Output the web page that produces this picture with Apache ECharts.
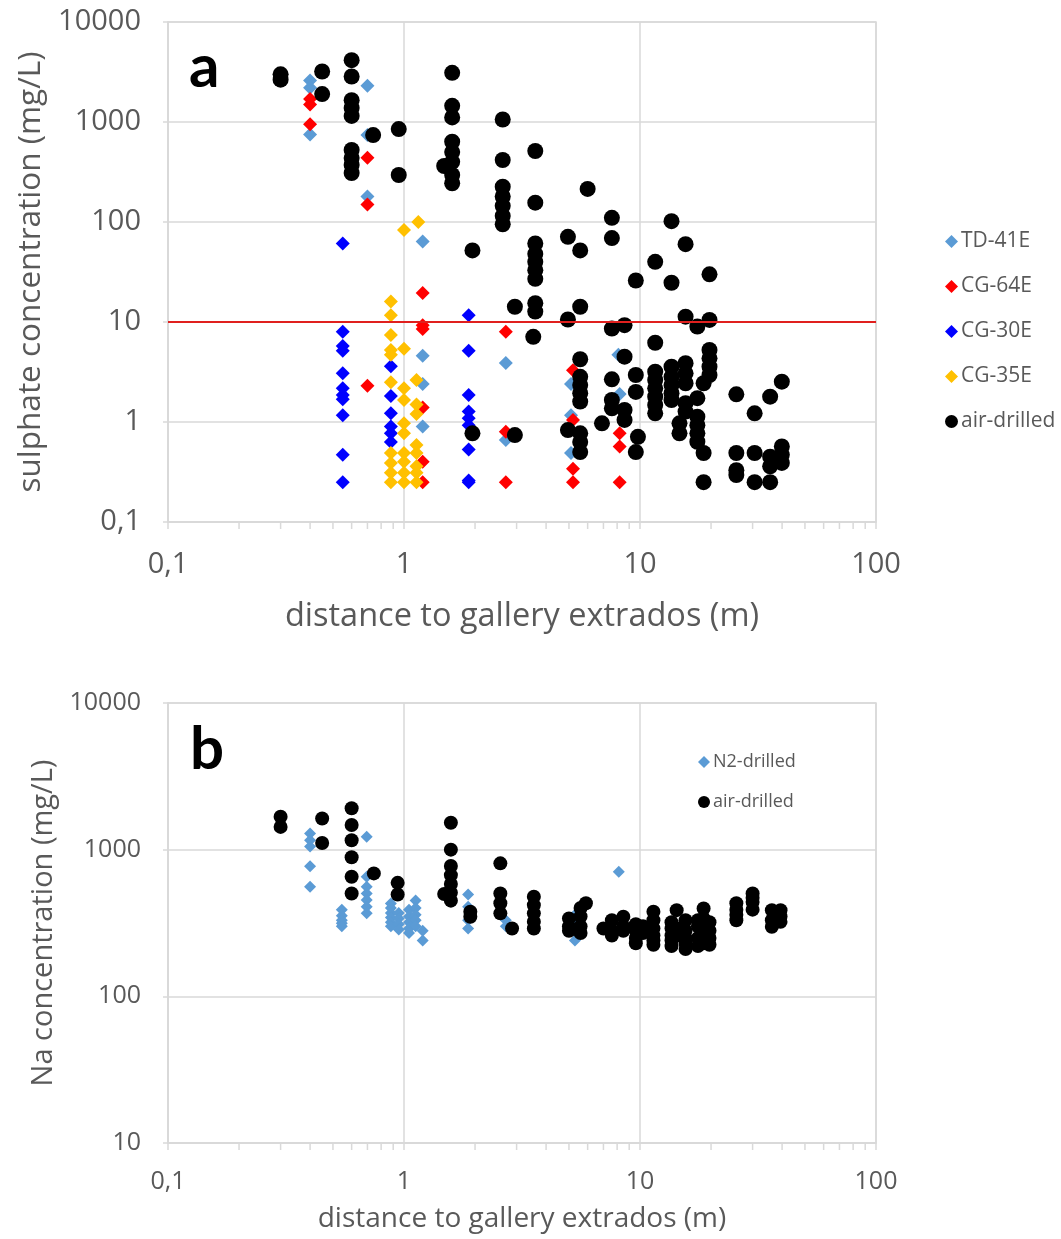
<!DOCTYPE html>
<html><head><meta charset="utf-8">
<script src="https://cdn.jsdelivr.net/npm/echarts@6/dist/echarts.min.js"></script>
<style>html,body{margin:0;padding:0;background:#fff}#c{width:1061px;height:1239px}</style>
</head><body><div id="c"></div><script>
// ---------- DATA ----------
const sulphateLimit = 10;
const minorTickValues = [0.2,0.3,0.4,0.5,0.6,0.7,0.8,0.9,2,3,4,5,6,7,8,9,20,30,40,50,60,70,80,90];

// Panel a: sulphate concentration (mg/L) vs distance (m)
const td41eA = [[0.4,2600],[0.4,2200],[0.4,750],[0.7,2300],[0.7,740],[0.7,180],[1.2,64],[1.2,4.6],[1.2,2.4],[1.2,0.9],
  [2.7,3.9],[2.7,0.66],[5.1,2.4],[5.1,1.17],[5.1,0.49],[8.1,4.7],[8.2,1.9]];
const cg64eA = [[0.4,1700],[0.4,1500],[0.4,950],[0.7,440],[0.7,150],[0.7,2.3],[1.2,19.5],[1.2,9.3],[1.2,8.5],[1.2,1.4],[1.2,0.4],[1.2,0.25],
  [2.7,8.0],[2.7,0.8],[2.7,0.25],[5.2,3.3],[5.2,1.05],[5.2,0.34],[5.2,0.25],[8.2,0.77],[8.2,0.57],[8.2,0.25]];
const cg30eA = [[0.55,61],[0.55,8.0],[0.55,5.75],[0.55,5.15],[0.55,3.07],[0.55,2.17],[0.55,1.86],[0.55,1.69],[0.55,1.17],[0.55,0.47],[0.55,0.25],
  [0.88,3.6],[0.88,1.82],[0.88,1.22],[0.88,0.9],[0.88,0.77],[0.88,0.63],
  [1.88,11.7],[1.88,5.15],[1.88,1.86],[1.88,1.27],[1.88,1.09],[1.88,0.93],[1.88,0.53],[1.88,0.26],[1.88,0.25]];
const cg35eA = [[1.0,83],[1.15,100],
  [0.88,16],[0.88,11.7],[0.88,7.4],[0.88,5.25],[0.88,4.7],[0.88,2.5],[0.88,0.49],[0.88,0.39],[0.88,0.31],[0.88,0.25],
  [1.0,5.4],[1.0,2.17],[1.0,1.66],[1.0,0.97],[1.0,0.77],[1.0,0.49],[1.0,0.4],[1.0,0.31],[1.0,0.25],
  [1.13,2.63],[1.13,1.5],[1.13,1.2],[1.13,0.59],[1.13,0.49],[1.13,0.36],[1.13,0.31],[1.13,0.25]];
const airA = [[0.3,3000],[0.3,2650],[0.45,3200],[0.45,1900],
  [0.6,4150],[0.6,2850],[0.6,1650],[0.6,1380],[0.6,1150],[0.6,525],[0.6,436],[0.6,372],[0.6,309],
  [0.74,740],[0.95,850],[0.95,295],
  [1.6,3100],[1.6,1450],[1.6,1110],[1.6,635],[1.6,500],[1.6,400],[1.6,295],[1.6,244],[1.48,363],
  [1.95,52],[1.95,0.77],
  [2.62,1060],[2.62,417],[2.62,225],[2.62,180],[2.62,145],[2.62,115],[2.62,95],
  [2.95,14.2],[2.95,0.74],
  [3.6,513],[3.6,156],[3.6,61],[3.6,48],[3.6,40],[3.6,33],[3.6,27],[3.6,15.4],[3.6,12.7],[3.53,7.1],
  [4.95,71],[4.95,10.6],[4.95,0.83],
  [5.58,52],[5.58,14.2],[5.58,4.24],[5.58,2.83],[5.58,2.34],[5.58,1.94],[5.58,1.6],[5.58,0.77],[5.58,0.63],[5.58,0.5],
  [6.0,214],[6.9,0.97],
  [7.6,110],[7.6,69],[7.6,8.6],[7.6,2.67],[7.6,1.66],[7.6,1.37],
  [8.6,9.3],[8.6,4.5],[8.6,1.32],[8.6,1.05],
  [9.6,26],[9.6,2.95],[9.6,2.0],[9.8,0.71],[9.6,0.5],
  [11.6,40],[11.6,6.2],[11.6,3.18],[11.6,2.63],[11.6,2.17],[11.6,1.79],[11.6,1.48],[11.6,1.22],
  [13.6,102],[13.6,24.7],[13.6,3.57],[13.6,2.83],[13.6,2.34],[13.6,1.94],[13.6,1.66],
  [14.7,0.97],[14.7,0.77],
  [15.6,60],[15.6,11.3],[15.6,3.87],[15.6,3.07],[15.6,2.44],[15.6,1.54],[15.6,1.27],
  [17.5,9.0],[17.5,1.73],[17.5,1.13],[17.5,0.93],[17.5,0.77],[17.5,0.635],
  [18.6,2.44],[18.6,0.49],[18.6,0.25],
  [19.7,30],[19.7,10.5],[19.7,5.25],[19.7,4.33],[19.7,3.57],[19.7,2.95],
  [25.6,1.89],[25.6,0.49],[25.6,0.33],[25.6,0.295],
  [30.6,1.22],[30.6,0.49],[30.6,0.25],
  [35.6,1.79],[35.6,0.45],[35.6,0.36],[35.6,0.25],
  [39.9,2.53],[39.9,0.57],[39.9,0.47],[39.9,0.39]];

// Panel b: Na concentration (mg/L) vs distance (m)
const n2B = [[0.4,1290],[0.4,1160],[0.4,1050],[0.4,770],[0.4,558],
  [0.545,390],[0.545,355],[0.545,330],[0.545,315],[0.545,300],
  [0.695,1225],[0.695,653],[0.695,558],[0.695,503],[0.695,453],[0.695,408],[0.695,368],
  [0.88,430],[0.88,400],[0.88,370],[0.88,345],[0.88,320],[0.88,300],
  [0.95,370],[0.95,340],[0.95,310],[0.95,285],
  [1.05,390],[1.05,350],[1.05,320],[1.05,290],[1.05,270],
  [1.12,450],[1.12,400],[1.12,360],[1.12,330],[1.12,300],
  [1.2,280],[1.2,240],
  [1.87,495],[1.87,408],[1.87,330],[1.87,290],
  [2.7,330],[2.7,300],[5.3,360],[5.3,300],[5.3,240],[8.13,706]];
const airB = [[0.3,1675],[0.3,1430],[0.45,1630],[0.45,1110],
  [0.6,1914],[0.6,1472],[0.6,1160],[0.6,887],[0.6,653],[0.6,503],
  [0.745,689],[0.94,594],[0.94,495],
  [1.58,1525],[1.58,1000],[1.58,773],[1.58,671],[1.58,583],[1.58,508],[1.58,449],[1.48,498],
  [1.91,378],[1.91,349],
  [2.56,807],[2.56,503],[2.56,431],[2.56,368],[2.87,290],
  [3.55,478],[3.55,419],[3.55,368],[3.55,323],[3.55,290],
  [5.0,340],[5.0,300],[5.0,280],[5.6,400],[5.6,350],[5.6,300],[5.6,270],[5.9,431],
  [7.0,290],[7.6,330],[7.6,280],[7.6,260],[8.5,349],[8.5,300],[8.5,280],
  [9.6,310],[9.6,280],[9.6,250],[9.6,230],[10.3,300],[10.3,270],
  [11.4,378],[11.4,330],[11.4,290],[11.4,260],[11.4,240],[11.4,225],
  [13.6,320],[13.6,290],[13.6,260],[13.6,240],[13.6,220],
  [14.3,387],[14.3,290],[14.3,260],
  [15.6,330],[15.6,280],[15.6,250],[15.6,230],[15.6,210],
  [17.6,330],[17.6,300],[17.6,250],[17.6,220],
  [18.6,397],[18.6,340],[18.6,290],[18.6,260],[18.6,230],
  [19.7,320],[19.7,280],[19.7,250],[19.7,225],
  [25.6,431],[25.6,390],[25.6,360],[25.6,330],
  [30.0,503],[30.0,470],[30.0,440],[30.0,390],
  [36.2,387],[36.2,330],[36.2,298],
  [39.4,387],[39.4,350],[39.4,322]];

// ---------- CHART ----------
const FONT = 'Open Sans';
const GRAY = '#595959';
const GRIDC = '#d9d9d9';
const chart = echarts.init(document.getElementById('c'), null, {renderer: 'canvas'});
const fmt = v => String(v).replace('.', ',');

function xAxisCfg(gridIndex, fs, nfs, labelMargin, nameGap) {
  return {
    type: 'log', logBase: 10, min: 0.1, max: 100, gridIndex,
    name: 'distance to gallery extrados (m)', nameLocation: 'middle', nameGap,
    nameTextStyle: {fontFamily: FONT, fontSize: nfs, color: GRAY},
    axisLine: {show: true, lineStyle: {color: GRIDC, width: 1.5}},
    axisTick: {show: true, inside: false, length: 7, lineStyle: {color: GRIDC, width: 1.5}},
    axisLabel: {fontFamily: FONT, fontSize: fs, color: GRAY, margin: labelMargin, formatter: fmt},
    splitLine: {show: true, lineStyle: {color: GRIDC, width: 1.5}}
  };
}
function yAxisCfg(gridIndex, min, name, fs, nfs, labelMargin, nameGap) {
  return {
    type: 'log', logBase: 10, min, max: 10000, gridIndex,
    name, nameLocation: 'middle', nameGap,
    nameTextStyle: {fontFamily: FONT, fontSize: nfs, color: GRAY},
    axisLine: {show: true, lineStyle: {color: GRIDC, width: 1.5}},
    axisTick: {show: true, length: 5, lineStyle: {color: GRIDC, width: 1.5}},
    axisLabel: {fontFamily: FONT, fontSize: fs, color: GRAY, margin: labelMargin, formatter: fmt},
    splitLine: {show: true, lineStyle: {color: GRIDC, width: 1.5}}
  };
}
function tickSeries(xIdx, yIdx, yBase) {
  return {
    type: 'custom', xAxisIndex: xIdx, yAxisIndex: yIdx, silent: true, clip: false, z: 1,
    data: minorTickValues.map(v => [v, yBase]),
    renderItem: (params, api) => {
      const p = api.coord([api.value(0), api.value(1)]);
      return {type: 'line', shape: {x1: p[0], y1: p[1], x2: p[0], y2: p[1] + 7},
        style: {stroke: GRIDC, lineWidth: 1.5}};
    }
  };
}
function scat(name, data, color, symbol, size, xIdx, yIdx, extra) {
  return Object.assign({
    type: 'scatter', name, data, xAxisIndex: xIdx, yAxisIndex: yIdx,
    symbol, symbolSize: size, itemStyle: {color, opacity: 1}, z: 3
  }, extra || {});
}

const option = {
  animation: false,
  backgroundColor: '#ffffff',
  grid: [
    {left: 168, top: 22, width: 708, height: 500, show: true, borderColor: GRIDC, borderWidth: 1.5},
    {left: 168, top: 703, width: 708, height: 440, show: true, borderColor: GRIDC, borderWidth: 1.5}
  ],
  xAxis: [xAxisCfg(0, 29, 32.5, 28, 78), xAxisCfg(1, 25, 28, 26, 62)],
  yAxis: [
    yAxisCfg(0, 0.1, 'sulphate concentration (mg/L)', 29, 31.5, 27, 118),
    yAxisCfg(1, 10, 'Na concentration (mg/L)', 25, 29, 27, 105)
  ],
  legend: [
    {orient: 'vertical', left: 940, top: 226, itemGap: 24, itemWidth: 13, itemHeight: 13,
     textStyle: {fontFamily: FONT, fontSize: 21, color: GRAY, padding: [0, 0, 0, -2]},
     data: [{name: 'TD-41E', icon: 'diamond'}, {name: 'CG-64E', icon: 'diamond'},
            {name: 'CG-30E', icon: 'diamond'}, {name: 'CG-35E', icon: 'diamond'},
            {name: 'air-drilled', icon: 'circle'}]},
    {orient: 'vertical', left: 693, top: 748, itemGap: 22, itemWidth: 12, itemHeight: 12,
     textStyle: {fontFamily: FONT, fontSize: 18, color: GRAY, padding: [0, 0, 0, -2]},
     data: [{name: 'N2-drilled', icon: 'diamond'}, {name: 'air-drilled', icon: 'circle'}]}
  ],
  graphic: [
    {type: 'text', left: 189, top: 38, style: {text: 'a', font: 'bold 60px Lato', fill: '#000'}},
    {type: 'text', left: 190, top: 720, style: {text: 'b', font: 'bold 60px Lato', fill: '#000'}}
  ],
  series: [
    tickSeries(0, 0, 0.1),
    tickSeries(1, 1, 10),
    scat('TD-41E', td41eA, '#5b9bd5', 'diamond', 14, 0, 0, {
      markLine: {silent: true, symbol: 'none', label: {show: false},
        lineStyle: {color: '#e0201e', width: 2, type: 'solid'}, data: [{yAxis: sulphateLimit}]}
    }),
    scat('CG-64E', cg64eA, '#ff0000', 'diamond', 14, 0, 0),
    scat('CG-30E', cg30eA, '#0000ff', 'diamond', 14, 0, 0),
    scat('CG-35E', cg35eA, '#ffc000', 'diamond', 14, 0, 0),
    scat('air-drilled', airA, '#000000', 'circle', 16, 0, 0, {z: 4}),
    scat('N2-drilled', n2B, '#5b9bd5', 'diamond', 12, 1, 1),
    scat('air-drilled', airB, '#000000', 'circle', 14, 1, 1, {z: 4})
  ]
};
chart.setOption(option);
</script></body></html>
